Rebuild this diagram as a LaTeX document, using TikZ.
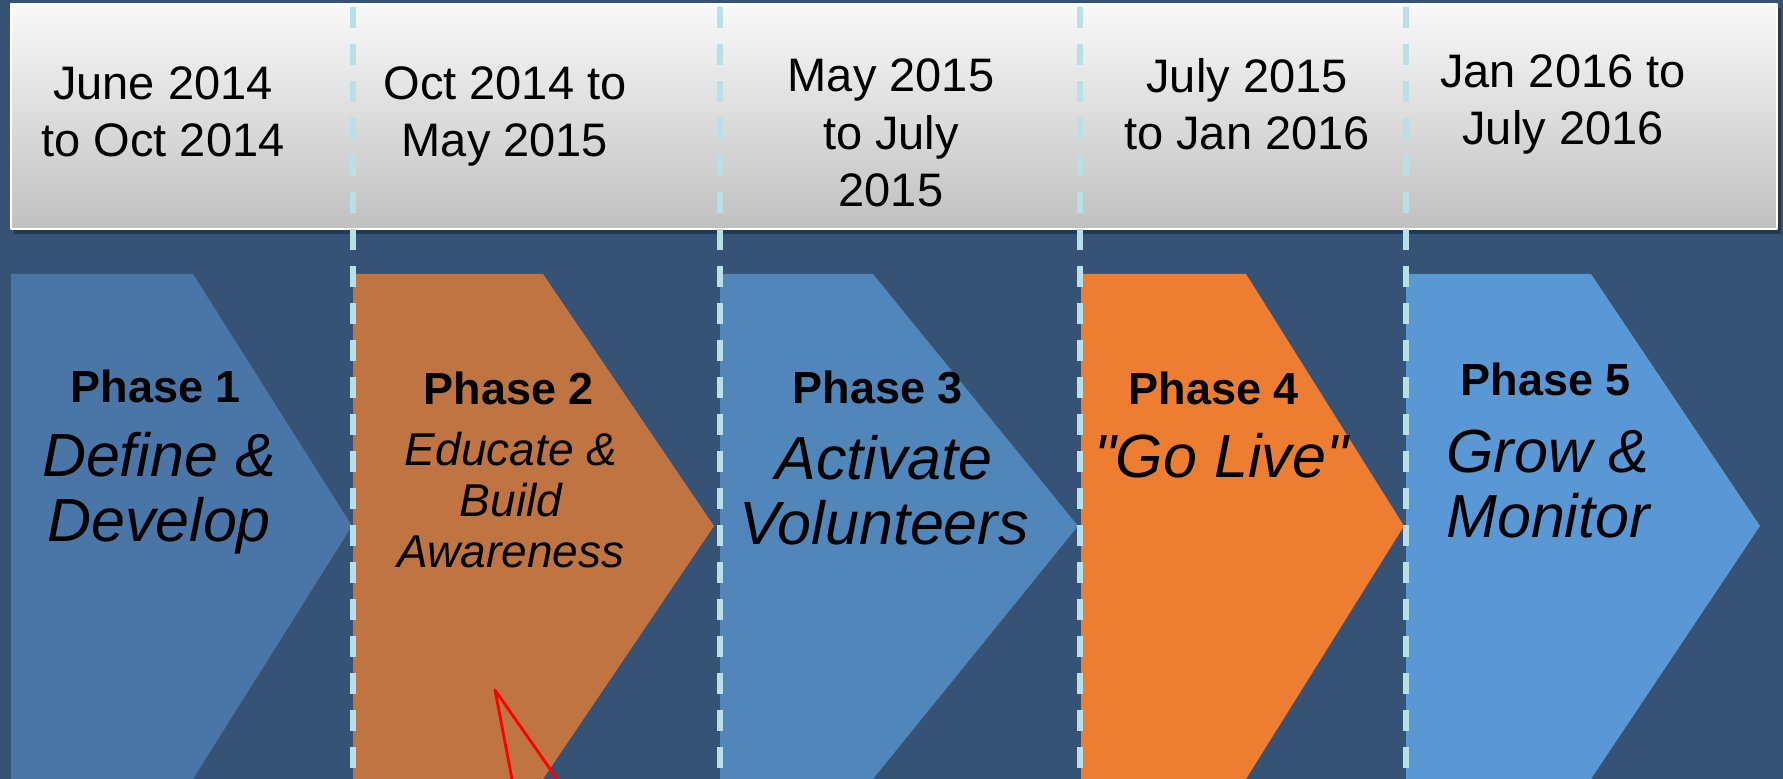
\documentclass[tikz,border=0pt]{standalone}
\usepackage{fontspec}
\setmainfont{Liberation Sans}
\definecolor{bgblue}{RGB}{54,82,117}
\definecolor{phaseA}{RGB}{73,118,167}
\definecolor{phaseB}{RGB}{191,116,66}
\definecolor{phaseC}{RGB}{80,134,186}
\definecolor{phaseD}{RGB}{237,125,49}
\definecolor{phaseE}{RGB}{89,152,212}
\definecolor{dashcyan}{RGB}{185,224,230}
\definecolor{boxtop}{RGB}{249,249,249}
\definecolor{boxmid}{RGB}{230,230,230}
\definecolor{boxbottom}{RGB}{192,192,192}
\tikzset{
  datetext/.style={align=center, anchor=base, font=\fontsize{23.5}{28.75}\selectfont},
  phasetitle/.style={anchor=base, font=\fontsize{22.5}{27}\selectfont\bfseries},
  phasename/.style={align=center, anchor=base, font=\fontsize{30.5}{32.5}\selectfont\itshape},
  phasesmall/.style={align=center, anchor=base, font=\fontsize{23}{25.5}\selectfont\itshape},
  divider/.style={draw=dashcyan, line width=2.6pt, line cap=butt, dash pattern=on 10.5pt off 8pt},
}
\begin{document}
\begin{tikzpicture}[line cap=round,line join=round,x=0.5pt,y=-0.5pt, scale=1]
  \useasboundingbox (0,0) rectangle (1783,779);
  \fill[bgblue] (0,0) rectangle (1783,779);

        % date bar
        \fill[black, opacity=0.3] (14,8) rectangle (1781,234);
        \shade[top color=boxtop, middle color=boxmid, bottom color=boxbottom] (11,4) rectangle (1777,229);
        \draw[white, line width=0.8pt] (11,4) rectangle (1777,229);

        % chevrons: left, shoulder, tip, colour
        \foreach \l/\s/\t/\c in {11/193/352/phaseA, 353/543/714/phaseB, 720/873/1078/phaseC, 1081/1246/1404/phaseD, 1406/1591/1760/phaseE}{
            \coordinate (A) at (\l, 274);
            \coordinate (B) at (\s, 274);
            \coordinate (C) at (\t, 526);
            \coordinate (D) at (\s, 779);
            \coordinate (E) at (\l, 779);
            \fill[\c] (A) -- (B) -- (C) -- (D) -- (E) -- cycle;
        }

        % base of a block is its last line
        \node[datetext] (date1) at (163, 157) {June 2014\\to Oct 2014};
        \node[datetext] (date2) at (505, 157) {Oct 2014 to\\May 2015};
        \node[datetext] (date3) at (891, 207) {May 2015\\to July\\2015};
        \node[datetext] (date4) at (1247, 150) {July 2015\\to Jan 2016};
        \node[datetext] (date5) at (1563, 145) {Jan 2016 to\\July 2016};

        \node[phasetitle] (title1) at (156, 403) {Phase 1};
        \node[phasetitle] (title2) at (509, 405) {Phase 2};
        \node[phasetitle] (title3) at (878, 404) {Phase 3};
        \node[phasetitle] (title4) at (1214, 405) {Phase 4};
        \node[phasetitle] (title5) at (1546, 396) {Phase 5};

        \node[phasename] (name1) at (159, 542) {Define \&\\Develop};
        \node[phasesmall] (name2) at (511, 568) {Educate \&\\Build\\Awareness};
        \node[phasename] (name3) at (884, 545) {Activate\\Volunteers};
        \node[phasename] (name4) at (1221, 478) {\textquotedbl Go Live\textquotedbl};
        \node[phasename] (name5) at (1548, 538) {Grow \&\\Monitor};

        \foreach \x in {353, 720, 1080, 1406}{
          \draw[divider] (\x, 7) -- (\x, 779);
        }

        \coordinate (redL) at (512, 779);
        \coordinate (redtip) at (495, 690);
        \coordinate (redR) at (557, 779);
        \draw[red, line width=1.4pt] (redL) -- (redtip) -- (redR);
      \end{tikzpicture}
\end{document}
